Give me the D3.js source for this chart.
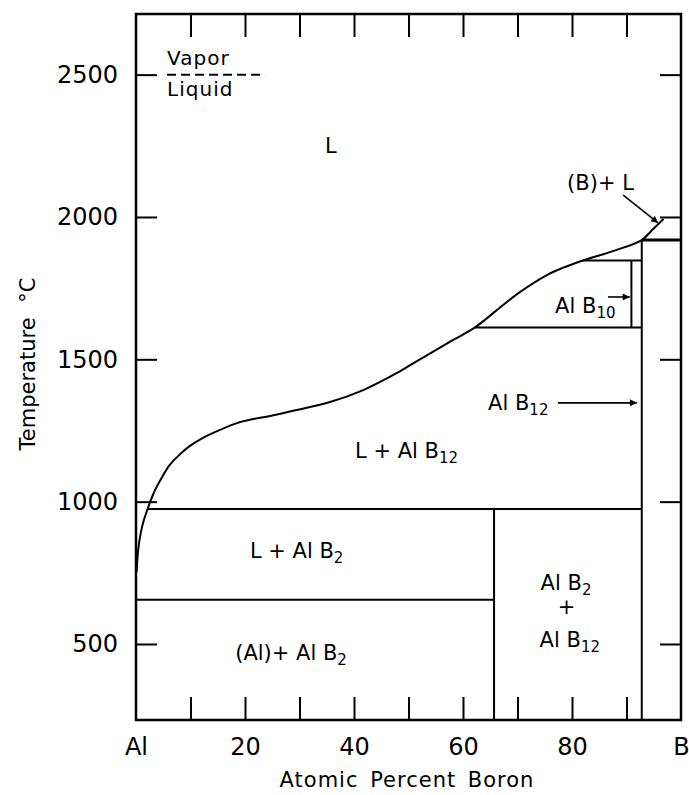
<!DOCTYPE html>
<html>
<head>
<meta charset="utf-8">
<script src="https://cdn.jsdelivr.net/npm/d3@7"></script>
<style>
    body { margin: 0; background: #fff; }
</style>
</head>
<body>
<div id="graph"></div>
<script>

// Liquidus (atomic % B, temperature °C)
const liqPct  = [0.1, 0.4, 0.9, 1.5, 2.0, 2.6, 3.5, 4.8, 6.2, 8.1, 9.9, 12.3, 15.4, 18.5, 21.5, 24.6, 29.5, 35.6, 41.7, 47.9, 52.1, 58.2, 62.2, 67.3, 70.5, 75.4, 78.3, 82.0, 87.5, 92.8, 94.7, 96.8];
const liqTemp = [753, 830, 893, 939, 967, 999, 1041, 1087, 1129, 1167, 1196, 1224, 1252, 1276, 1290, 1301, 1322, 1350, 1392, 1452, 1500, 1568, 1612, 1690, 1737, 1796, 1821, 1847, 1880, 1919, 1954, 1993];

// Horizontal invariant lines
const isoTemp = [974, 655, 1612, 1847, 1919];
const isoFrom = [2.1, 0, 62.2, 82.0, 92.8];
const isoTo   = [92.8, 65.7, 92.8, 92.8, 100];

// Compound lines : AlB2, AlB10, AlB12
const compPct    = [65.7, 90.9, 92.8];
const compTop    = [974, 1847, 1919];
const compBottom = [233, 1612, 233];

// Vapor / liquid dashed line
const vaporTemp = 2500;
const vaporFrom = 5.7;
const vaporTo   = 23.7;

// Arrows (from -> to)
const arrowPct1  = [89.4, 86.6, 77.4];
const arrowTemp1 = [2077, 1719, 1347];
const arrowPct2  = [95.8, 90.6, 91.9];
const arrowTemp2 = [1979, 1719, 1347];

// Axes
const tempDomain = [233, 2713];
const tempTicks  = [500, 1000, 1500, 2000, 2500];
const pctTicks   = [10, 20, 30, 40, 50, 60, 70, 80, 90];
const pctLabelValues = [0, 20, 40, 60, 80, 100];
const pctLabelText   = ["Al", "20", "40", "60", "80", "B"];

// Phase labels
const labelMain = ["Vapor", "Liquid", "L", "(B)+ L", "Al B", "Al B", "L + Al B", "L + Al B", "(Al)+ Al B", "Al B", "+", "Al B"];
const labelSub  = ["", "", "", "", "10", "12", "12", "2", "2", "2", "", "12"];
const labelPct  = [5.7, 5.7, 34.7, 79.1, 76.9, 64.6, 40.2, 20.9, 18.2, 78.9, 79.0, 79.6];
const labelTemp = [2534, 2425, 2225, 2095, 1663, 1322, 1153, 802, 444, 690, 605, 489];


const width = 689;
const height = 795;
const font = "'DejaVu Sans', sans-serif";

const svg = d3.select("#graph")
    .append("svg")
    .attr("width", width)
    .attr("height", height)
    .attr("font-family", font);

// Echelles
const x = d3.scaleLinear().domain([0, 100]).range([136, 681]);
const y = d3.scaleLinear().domain(tempDomain).range([720, 14]);

// Axes (ticks pointing inward)
const styleAxis = g => g
    .attr("font-family", font)
    .attr("font-size", 24)
    .call(g => g.select(".domain").remove())
    .call(g => g.selectAll(".tick line").attr("stroke-width", 2))
    .call(g => g.selectAll("text").attr("fill", "#000"));

svg.append("g")
    .attr("transform", `translate(${x(0)}, 0)`)
    .call(d3.axisLeft(y).tickValues(tempTicks).tickSizeInner(-21).tickSizeOuter(0).tickPadding(18)
        .tickFormat(d3.format("d")))
    .call(styleAxis);

svg.append("g")
    .attr("transform", `translate(${x(100)}, 0)`)
    .call(d3.axisRight(y).tickValues(tempTicks).tickSizeInner(-21).tickSizeOuter(0).tickFormat(""))
    .call(styleAxis);

svg.append("g")
    .attr("transform", `translate(0, ${y(tempDomain[0])})`)
    .call(d3.axisBottom(x).tickValues(pctTicks).tickSizeInner(-23).tickSizeOuter(0).tickFormat(""))
    .call(styleAxis);

svg.append("g")
    .attr("transform", `translate(0, ${y(tempDomain[1])})`)
    .call(d3.axisTop(x).tickValues(pctTicks).tickSizeInner(-23).tickSizeOuter(0).tickFormat(""))
    .call(styleAxis);

svg.append("g")
    .attr("transform", `translate(0, ${y(tempDomain[0])})`)
    .call(d3.axisBottom(x).tickValues(pctLabelValues).tickSize(0).tickPadding(18)
        .tickFormat((d, i) => pctLabelText[i]))
    .call(styleAxis);

// Cadre
svg.append("rect")
    .attr("x", x(0))
    .attr("y", y(tempDomain[1]))
    .attr("width", x(100) - x(0))
    .attr("height", y(tempDomain[0]) - y(tempDomain[1]))
    .attr("fill", "none")
    .attr("stroke", "#000")
    .attr("stroke-width", 2.5);

// Titres des axes
svg.append("text")
    .attr("x", 407)
    .attr("y", 787)
    .attr("text-anchor", "middle")
    .attr("font-size", 21)
    .attr("letter-spacing", 1)
    .attr("word-spacing", 4)
    .text("Atomic Percent Boron");

svg.append("text")
    .attr("transform", "translate(35, 364) rotate(-90)")
    .attr("text-anchor", "middle")
    .attr("font-size", 21)
    .attr("word-spacing", 8)
    .text("Temperature °C");

// Liquidus
const liqData = liqPct.map((p, i) => ({ pct: p, temp: liqTemp[i] }));

const liquidus = d3.line()
    .curve(d3.curveCatmullRom.alpha(0.5))
    .x(d => x(d.pct))
    .y(d => y(d.temp));

svg.append("path")
    .datum(liqData)
    .attr("fill", "none")
    .attr("stroke", "#000")
    .attr("stroke-width", 2)
    .attr("d", liquidus);

// Isothermes
svg.selectAll(".iso")
    .data(isoTemp)
    .join("line")
    .attr("class", "iso")
    .attr("x1", (d, i) => x(isoFrom[i]))
    .attr("x2", (d, i) => x(isoTo[i]))
    .attr("y1", d => y(d))
    .attr("y2", d => y(d))
    .attr("stroke", "#000")
    .attr("stroke-width", (d, i) => i === 4 ? 3 : 2);

// Composés
svg.selectAll(".comp")
    .data(compPct)
    .join("line")
    .attr("class", "comp")
    .attr("x1", d => x(d))
    .attr("x2", d => x(d))
    .attr("y1", (d, i) => y(compTop[i]))
    .attr("y2", (d, i) => y(compBottom[i]))
    .attr("stroke", "#000")
    .attr("stroke-width", 2);

// Vapor / Liquid
svg.append("line")
    .attr("x1", x(vaporFrom))
    .attr("x2", x(vaporTo))
    .attr("y1", y(vaporTemp))
    .attr("y2", y(vaporTemp))
    .attr("stroke", "#000")
    .attr("stroke-width", 2)
    .attr("stroke-dasharray", "9,5");

// Flèches
svg.append("defs")
    .append("marker")
    .attr("id", "head")
    .attr("viewBox", "0 0 10 10")
    .attr("refX", 10)
    .attr("refY", 5)
    .attr("markerWidth", 9)
    .attr("markerHeight", 7)
    .attr("markerUnits", "userSpaceOnUse")
    .attr("orient", "auto")
    .append("path")
    .attr("d", "M0,0 L10,5 L0,10 Z")
    .attr("fill", "#000");

svg.selectAll(".arrow")
    .data(arrowPct1)
    .join("line")
    .attr("class", "arrow")
    .attr("x1", d => x(d))
    .attr("y1", (d, i) => y(arrowTemp1[i]))
    .attr("x2", (d, i) => x(arrowPct2[i]))
    .attr("y2", (d, i) => y(arrowTemp2[i]))
    .attr("stroke", "#000")
    .attr("stroke-width", 1.6)
    .attr("marker-end", "url(#head)");

// Etiquettes des domaines
const labels = svg.selectAll(".label")
    .data(labelMain)
    .join("text")
    .attr("class", "label")
    .attr("x", (d, i) => x(labelPct[i]))
    .attr("y", (d, i) => y(labelTemp[i]))
    .attr("font-size", (d, i) => i < 2 ? 20 : 21)
    .attr("letter-spacing", (d, i) => i < 2 ? 1 : 0)
    .attr("text-anchor", (d, i) => i >= 9 ? "middle" : "start")
    .style("white-space", "pre");

labels.append("tspan")
    .text(d => d);

labels.append("tspan")
    .attr("font-size", 15)
    .attr("dy", 5)
    .text((d, i) => labelSub[i]);

</script>
</body>
</html>
